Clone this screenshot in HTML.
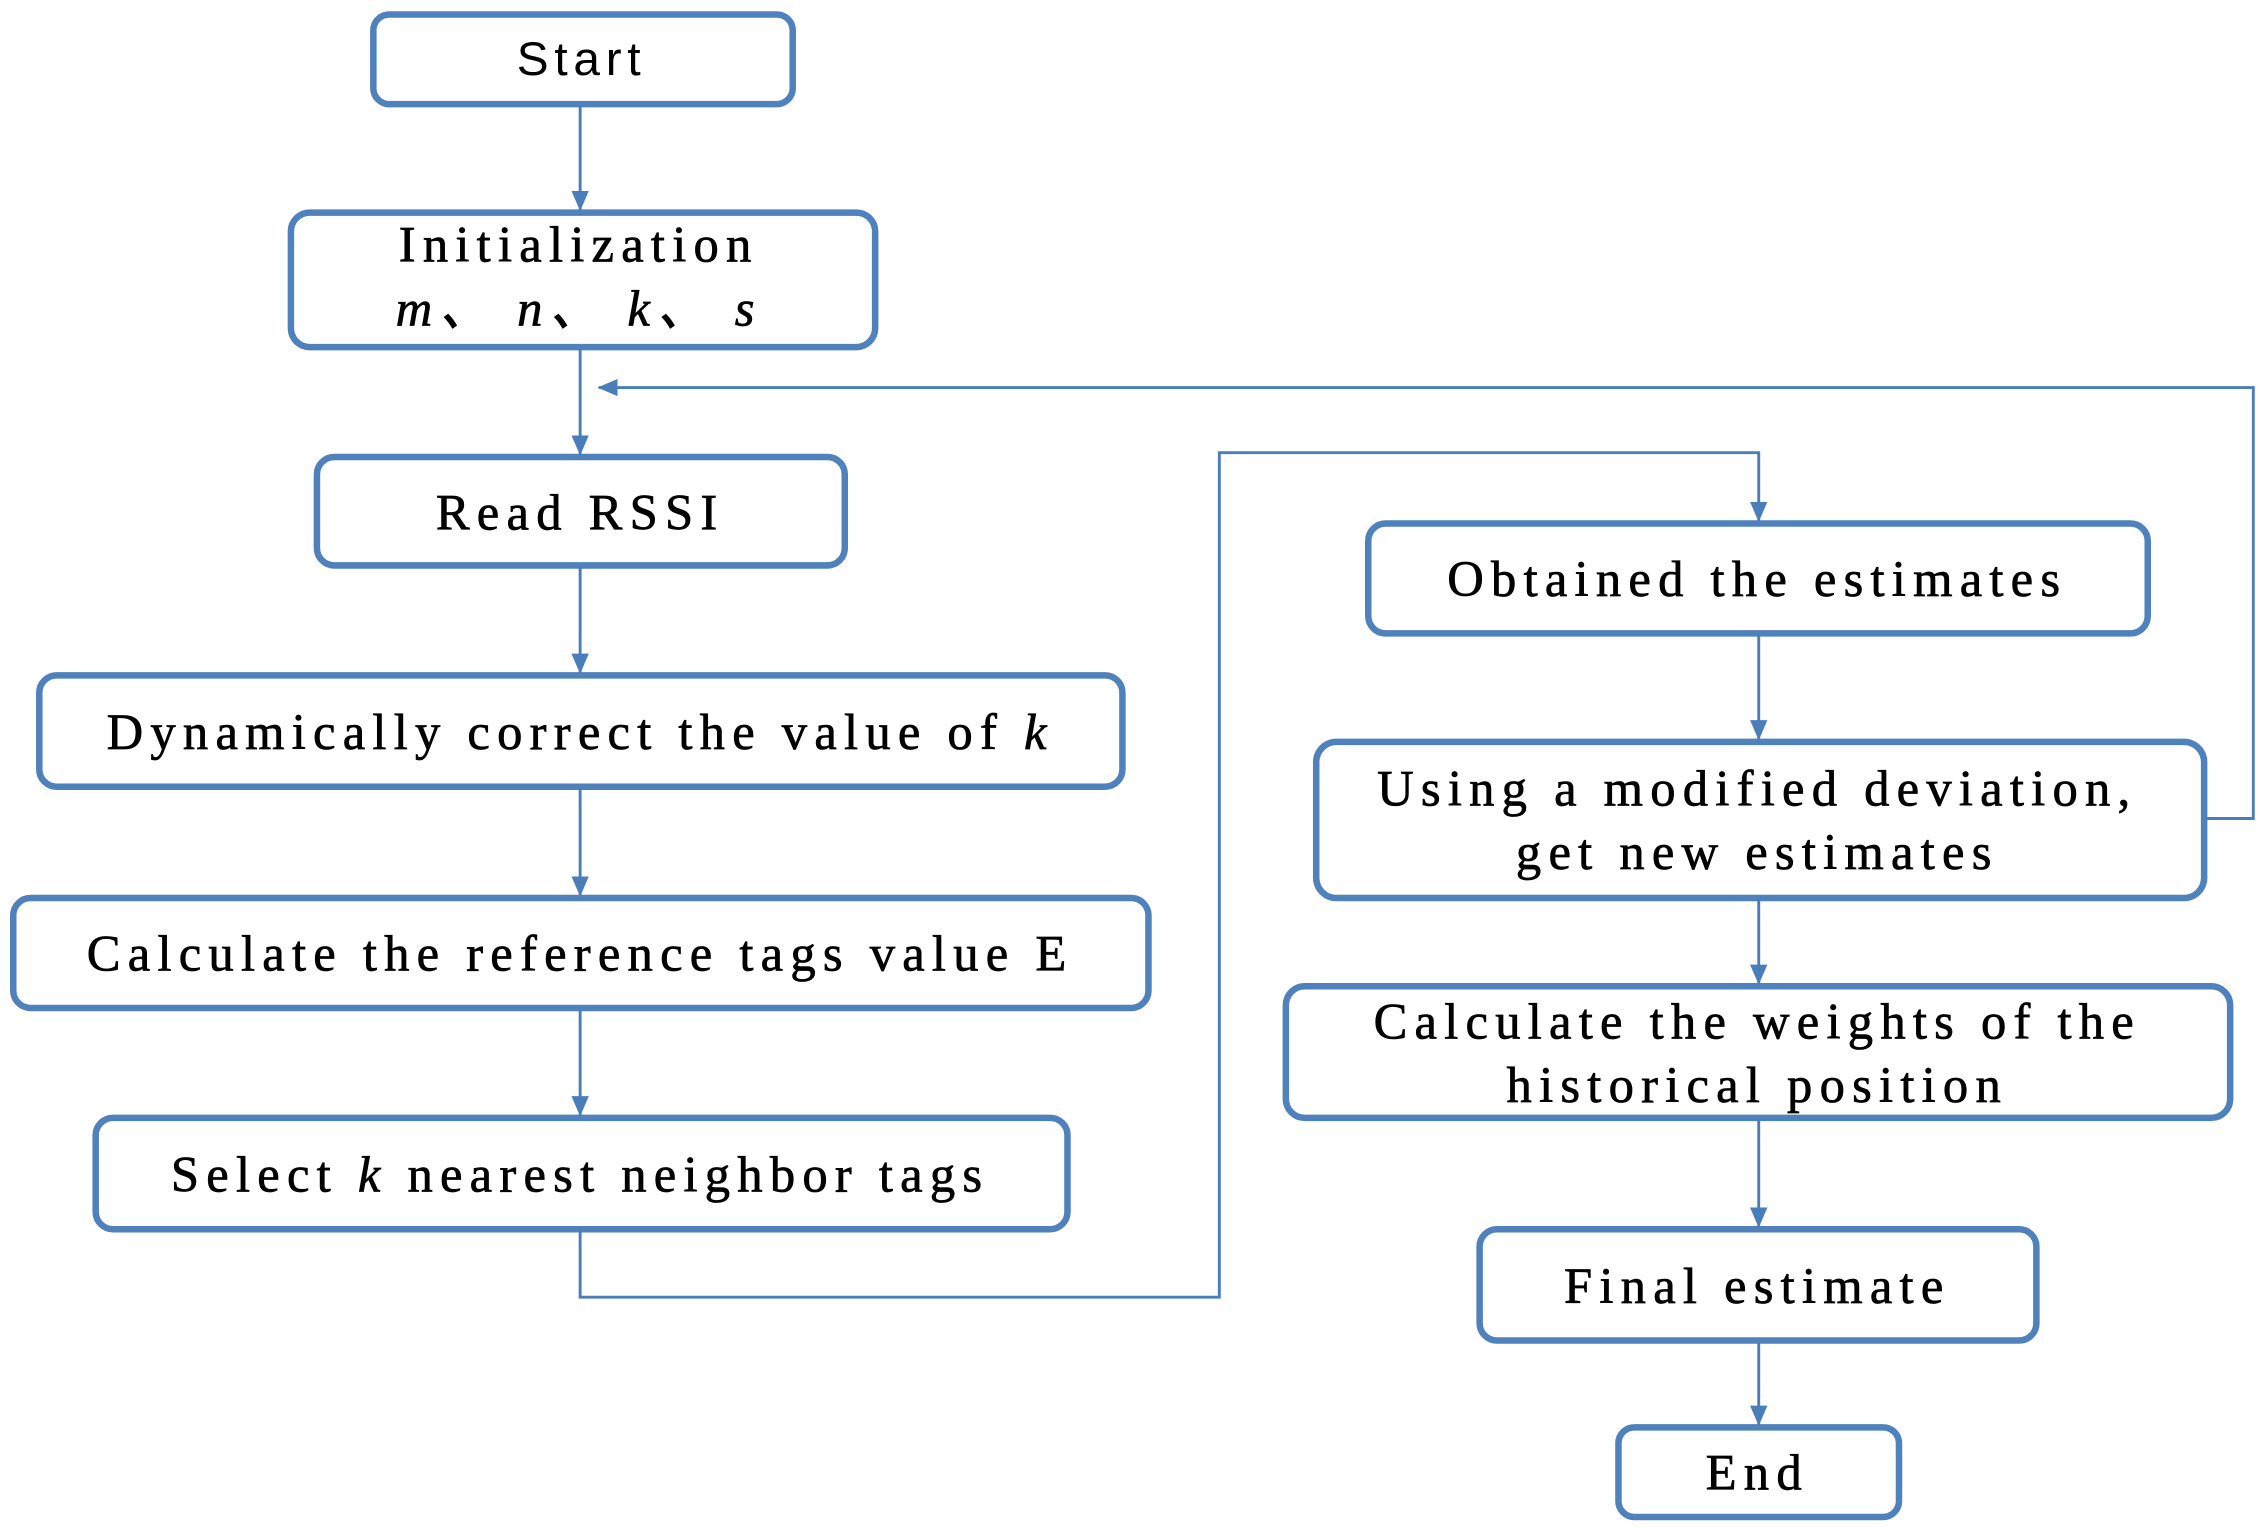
<!DOCTYPE html>
<html><head><style>
html,body{margin:0;padding:0;background:#fff;}
svg{display:block}
text{font-family:"Liberation Serif",serif;font-size:35px;fill:#000;stroke:#000;stroke-width:0.5;text-anchor:middle;letter-spacing:5px}
.s{font-family:"Liberation Sans",sans-serif;font-size:33px;letter-spacing:4px;stroke-width:0}
</style></head><body>
<svg width="2268" height="1530" viewBox="0 0 1568 1058" xmlns="http://www.w3.org/2000/svg">
<defs><marker id="a" markerWidth="14" markerHeight="12" refX="13" refY="6" orient="auto" markerUnits="userSpaceOnUse"><path d="M0,0 L14,6 L0,12 Z" fill="#4a7ebb"/></marker></defs>
<g fill="none" stroke="#4f81bd" stroke-width="4.5">
<rect x="258" y="10" width="290" height="62" rx="11"/>
<rect x="201" y="147" width="404" height="93" rx="13"/>
<rect x="219" y="316" width="365" height="75" rx="12"/>
<rect x="27" y="467" width="749" height="77" rx="12"/>
<rect x="9" y="621" width="785" height="76" rx="12"/>
<rect x="66" y="773" width="672" height="77" rx="12"/>
<rect x="946" y="362" width="539" height="76" rx="12"/>
<rect x="910" y="513" width="614" height="108" rx="14"/>
<rect x="889" y="682" width="653" height="91" rx="13"/>
<rect x="1023" y="850" width="385" height="77" rx="12"/>
<rect x="1119" y="987" width="194" height="62" rx="11"/>
</g>
<g fill="none" stroke="#4a7ebb" stroke-width="2" marker-end="url(#a)">
<path d="M401,73 V145"/>
<path d="M401,241 V314"/>
<path d="M401,392 V465"/>
<path d="M401,545 V619"/>
<path d="M401,698 V771"/>
<path d="M401,851 V897 H843 V313 H1216 V360"/>
<path d="M1216,439 V511"/>
<path d="M1216,622 V680"/>
<path d="M1216,774 V848"/>
<path d="M1216,928 V985"/>
<path d="M1525,566 H1558 V268 H414"/>
</g>
<text class="s" x="402" y="52">Start</text>
<text x="400" y="181">Initialization</text>
<text x="400" y="225" font-style="italic">m、 n、 k、 s</text>
<text x="401" y="366">Read RSSI</text>
<text x="401" y="518">Dynamically correct the value of <tspan font-style="italic">k</tspan></text>
<text x="401" y="671">Calculate the reference tags value E</text>
<text x="401" y="824">Select  <tspan font-style="italic">k</tspan> nearest neighbor tags</text>
<text x="1215" y="412">Obtained the estimates</text>
<text x="1215" y="557">Using a modified deviation,</text>
<text x="1215" y="601">get new estimates</text>
<text x="1215" y="718">Calculate the weights of the</text>
<text x="1215" y="762">historical position</text>
<text x="1215" y="901">Final estimate</text>
<text x="1215" y="1030">End</text>
</svg>
</body></html>
